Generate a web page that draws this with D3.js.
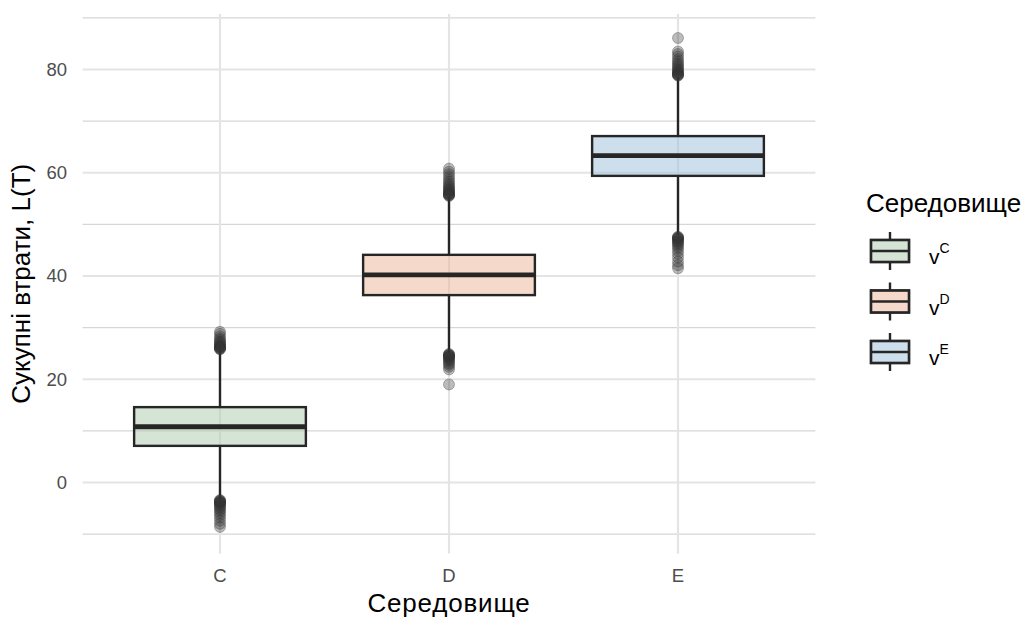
<!doctype html>
<html>
<head>
    <meta charset="utf-8">
    <title>Сукупні втрати за середовищем</title>
    <style type="text/css">
        body { margin: 0; background: #fff; }
        text { font-family: "Liberation Sans", Arial, sans-serif; }
        .tick-label { fill: #4d4d4d; font-size: 18.5px; }
        .axis-title { fill: #000; font-size: 26px; }
        .wide { letter-spacing: 0.8px; }
        .grid-major { stroke: #e4e4e4; stroke-width: 2.2; }
        .grid-minor { stroke: #d6d6d6; stroke-width: 1.2; }
        .box { stroke: #262626; stroke-width: 2.4; }
        .whisker { stroke: #262626; stroke-width: 2.4; }
        .median { stroke: #262626; stroke-width: 4.8; }
        .outlier { fill: #333; fill-opacity: 0.33; stroke: #333; stroke-opacity: 0.33; stroke-width: 1; }
    </style>
</head>
<body>
<div id="plot"></div>
<script src="https://d3js.org/d3.v7.min.js"></script>
<script>
    // data
    var groups = ["C", "D", "E"];
    var legendLabels = ["C", "D", "E"]; // superscripts on "v"
    var fills = ["#adc9ad", "#ebb597", "#9bbfd9"];

    var q1 = [7.1, 36.3, 59.4];
    var medians = [10.8, 40.2, 63.3];
    var q3 = [14.6, 44.1, 67.1];
    var whiskerLow = [-3.2, 25.1, 48.0];
    var whiskerHigh = [25.6, 55.3, 78.5];

    var outliersC = [25.8, 25.9, 26.0, 26.1, 26.2, 26.3, 26.4, 26.5, 26.7, 26.9, 27.1, 27.3, 27.6, 27.9, 28.3, 28.8, 29.2,
        -3.4, -3.5, -3.6, -3.7, -3.8, -3.9, -4.0, -4.2, -4.4, -4.6, -4.9, -5.2, -5.5, -5.9, -6.3, -6.8, -7.4, -8.0, -8.6];
    var outliersD = [55.5, 55.6, 55.7, 55.8, 55.9, 56.0, 56.2, 56.4, 56.6, 56.8, 57.0, 57.3, 57.6, 57.9, 58.3, 58.7, 59.2, 59.7, 60.2, 60.8,
        24.9, 24.8, 24.7, 24.6, 24.5, 24.4, 24.3, 24.1, 23.9, 23.7, 23.4, 23.1, 22.8, 22.4, 21.9, 19.0];
    var outliersE = [78.8, 78.9, 79.0, 79.1, 79.2, 79.4, 79.6, 79.8, 80.0, 80.3, 80.6, 80.9, 81.2, 81.6, 82.0, 82.5, 83.0, 83.5, 86.1,
        47.6, 47.5, 47.4, 47.3, 47.2, 47.0, 46.8, 46.6, 46.4, 46.1, 45.8, 45.4, 44.9, 44.3, 43.6, 42.8, 42.1, 41.5];
    var outliers = [outliersC, outliersD, outliersE];

    var yMajor = [0, 20, 40, 60, 80];
    var yMinor = [-10, 10, 30, 50, 70, 90];

    var width = 1027, height = 619;
    var panel = { left: 82.6, right: 815.4, top: 14, bottom: 553.5 };

    var svg = d3.select("#plot").append("svg")
        .attr("width", width)
        .attr("height", height);

    // discrete x: categories at 1..3, panel spans 0.4..3.6
    var xScale = d3.scaleLinear()
        .domain([0.4, 3.6])
        .range([panel.left, panel.right]);
    var xPos = function (i) { return xScale(i + 1); };

    var yScale = d3.scaleLinear()
        .domain([-13.75, 90.75])
        .range([panel.bottom, panel.top]);

    // grid
    svg.append("g").selectAll("line")
        .data(yMinor)
        .enter().append("line")
        .attr("class", "grid-minor")
        .attr("x1", panel.left).attr("x2", panel.right)
        .attr("y1", function (d) { return yScale(d); })
        .attr("y2", function (d) { return yScale(d); });

    svg.append("g").selectAll("line")
        .data(yMajor)
        .enter().append("line")
        .attr("class", "grid-major")
        .attr("x1", panel.left).attr("x2", panel.right)
        .attr("y1", function (d) { return yScale(d); })
        .attr("y2", function (d) { return yScale(d); });

    svg.append("g").selectAll("line")
        .data(groups)
        .enter().append("line")
        .attr("class", "grid-major")
        .attr("x1", function (d, i) { return xPos(i); })
        .attr("x2", function (d, i) { return xPos(i); })
        .attr("y1", panel.top).attr("y2", panel.bottom);

    // boxplots
    var boxW = xScale(1.375) - xScale(1);

    var box = svg.append("g").selectAll("g")
        .data(groups)
        .enter().append("g");

    box.append("line")
        .attr("class", "whisker")
        .attr("x1", function (d, i) { return xPos(i); })
        .attr("x2", function (d, i) { return xPos(i); })
        .attr("y1", function (d, i) { return yScale(q3[i]); })
        .attr("y2", function (d, i) { return yScale(whiskerHigh[i]); });

    box.append("line")
        .attr("class", "whisker")
        .attr("x1", function (d, i) { return xPos(i); })
        .attr("x2", function (d, i) { return xPos(i); })
        .attr("y1", function (d, i) { return yScale(q1[i]); })
        .attr("y2", function (d, i) { return yScale(whiskerLow[i]); });

    box.append("rect")
        .attr("class", "box")
        .attr("x", function (d, i) { return xPos(i) - boxW; })
        .attr("width", 2 * boxW)
        .attr("y", function (d, i) { return yScale(q3[i]); })
        .attr("height", function (d, i) { return yScale(q1[i]) - yScale(q3[i]); })
        .attr("fill", function (d, i) { return fills[i]; })
        .attr("fill-opacity", 0.5);

    box.append("line")
        .attr("class", "median")
        .attr("x1", function (d, i) { return xPos(i) - boxW; })
        .attr("x2", function (d, i) { return xPos(i) + boxW; })
        .attr("y1", function (d, i) { return yScale(medians[i]); })
        .attr("y2", function (d, i) { return yScale(medians[i]); });

    box.each(function (d, i) {
        d3.select(this).selectAll("circle")
            .data(outliers[i])
            .enter().append("circle")
            .attr("class", "outlier")
            .attr("cx", xPos(i))
            .attr("cy", function (v) { return yScale(v); })
            .attr("r", 5.5);
    });

    // axis labels
    svg.append("g").selectAll("text")
        .data(yMajor)
        .enter().append("text")
        .attr("class", "tick-label")
        .attr("x", 67)
        .attr("y", function (d) { return yScale(d); })
        .attr("dy", "0.35em")
        .attr("text-anchor", "end")
        .text(function (d) { return d; });

    svg.append("g").selectAll("text")
        .data(groups)
        .enter().append("text")
        .attr("class", "tick-label")
        .attr("x", function (d, i) { return xPos(i); })
        .attr("y", 582)
        .attr("text-anchor", "middle")
        .text(function (d) { return d; });

    svg.append("text")
        .attr("class", "axis-title wide")
        .attr("x", (panel.left + panel.right) / 2)
        .attr("y", 612)
        .attr("text-anchor", "middle")
        .text("Середовище");

    svg.append("text")
        .attr("class", "axis-title")
        .attr("transform", "translate(30," + ((panel.top + panel.bottom) / 2) + ") rotate(-90)")
        .attr("text-anchor", "middle")
        .text("Сукупні втрати, L(T)");

    // legend
    var legend = svg.append("g");
    legend.append("text")
        .attr("class", "axis-title")
        .attr("x", 866)
        .attr("y", 212)
        .text("Середовище");

    var keyY = d3.scaleLinear().domain([0, 2]).range([251, 352]);
    var key = legend.selectAll(".key")
        .data(legendLabels)
        .enter().append("g")
        .attr("class", "key")
        .attr("transform", function (d, i) { return "translate(890," + keyY(i) + ")"; });

    key.append("line").attr("class", "box")
        .attr("x1", 0).attr("x2", 0).attr("y1", -19).attr("y2", 19);
    key.append("rect").attr("class", "box")
        .attr("x", -19).attr("y", -11).attr("width", 38).attr("height", 22)
        .attr("fill", "#fff");
    key.append("rect")
        .attr("x", -19).attr("y", -11).attr("width", 38).attr("height", 22)
        .attr("fill", function (d, i) { return fills[i]; })
        .attr("fill-opacity", 0.5)
        .attr("class", "box");
    key.append("line").attr("class", "box")
        .attr("x1", -19).attr("x2", 19).attr("y1", 0).attr("y2", 0);

    var lab = key.append("text")
        .attr("x", 39)
        .attr("y", 13)
        .style("font-size", "21px")
        .attr("fill", "#000");
    lab.append("tspan").text("v");
    lab.append("tspan")
        .attr("dy", -11)
        .style("font-size", "14px")
        .text(function (d) { return d; });
</script>
</body>
</html>
